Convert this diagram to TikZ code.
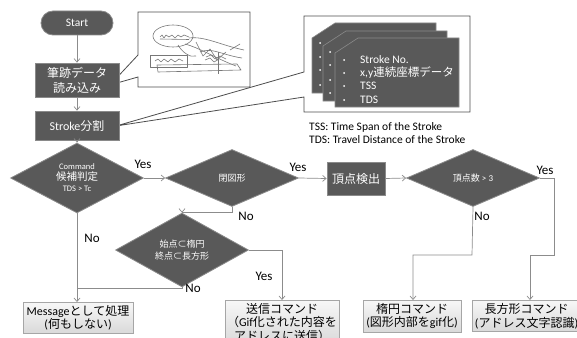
\documentclass[tikz,border=0pt]{standalone}
\usepackage{fontspec}
\setmainfont{Carlito}
\newfontfamily\jp{Noto Sans CJK JP}
\usetikzlibrary{arrows.meta,shapes.geometric}
\definecolor{dkfill}{HTML}{595959}
\definecolor{dkline}{HTML}{8A8A8A}
\definecolor{lncol}{HTML}{8C8C8C}
\definecolor{colc}{HTML}{4D4D4D}
\definecolor{ltline}{HTML}{A6A6A6}
\definecolor{lttop}{HTML}{F7F7F7}
\definecolor{ltbot}{HTML}{D9D9D9}
\definecolor{scrib}{HTML}{777777}
\begin{document}
\begin{tikzpicture}[x=1pt,y=-1pt,
  dark/.style={fill=dkfill, draw=dkline, line width=0.8pt, text=white, align=center, inner sep=1pt},
  dec/.style={dark, diamond, minimum width=133pt, minimum height=57pt, inner sep=0pt},
  lite/.style={draw=ltline, line width=0.8pt, top color=lttop, bottom color=ltbot, align=center, anchor=north, inner xsep=2pt, inner ysep=3pt, text=black, font=\fontsize{12}{13.5}\selectfont},
  conn/.style={draw=lncol, line width=0.7pt},
  arr/.style={conn, -{Straight Barb[length=3.5pt,width=6pt]}},
  lbl/.style={font=\fontsize{13}{14}\selectfont, text=black, inner sep=0pt},
  callout/.style={draw=colc, line width=0.8pt, fill=white},
  card/.style={fill=dkfill, draw=dkline, line width=0.6pt},
  cardtxt/.style={text=white, anchor=west, inner sep=0pt, font=\fontsize{11.5}{13}\selectfont},
  bul/.style={fill=white, draw=none}
]
\useasboundingbox (0,0) rectangle (577,337);
\clip (0,0) rectangle (577,337);

% callouts
\path[callout] (138,12) -- (250,12) -- (250,87) -- (138,87) -- (138,77) -- (110,85) -- (138,55) -- cycle;
\path[callout] (304,16) -- (470,16) -- (470,112) -- (304,112) -- (304,97) -- (116,126) -- (304,72) -- cycle;

% handwriting sketch
\begin{scope}[draw=scrib, line width=0.6pt, line join=round]
  \draw (173,36) ellipse [x radius=20, y radius=11];
  \draw (160,37) -- (162,35) -- (164,38) -- (166,35) -- (169,37) -- (172,35) -- (175,38) -- (178,35) -- (181,37) -- (184,35) -- (189,37);
  \draw (160,39) -- (189,39.5);
  \draw (150,55) rectangle (187,67);
  \draw (155,61) -- (158,59) -- (161,62) -- (164,59) -- (168,62) -- (171,59) -- (175,62) -- (179,59) -- (183,61);
  \draw (157,65) -- (237,64) -- (241,70) -- (158,72) -- cycle;
  \draw (189,38) .. controls (205,36) and (220,45) .. (244,50);
  \draw (185,44) .. controls (200,48) and (215,58) .. (236,66);
  \draw (196,42) -- (203,56) -- (210,49) -- (217,60) -- (226,52);
  \draw (200,52) .. controls (212,47) and (222,55) .. (242,58);
  \draw (206,57) -- (211,55) -- (215,59) -- (220,56) -- (226,59);
  \draw (205,60) -- (210,58) -- (214,62) -- (219,59);
  \draw (218,52) -- (218,74);
  \draw (178,45) .. controls (182,52) and (190,58) .. (196,56);
  \draw (230,50) -- (240,44);
\end{scope}

% cards
\path[card] (312,38) -- (335,23) -- (436,23) -- (436,93) -- (312,93) -- cycle;
\foreach \yy in {43,57,70,85} \fill[bul] (320,\yy) circle (1pt);
\path[card] (323,46) -- (346,31) -- (447,31) -- (447,101) -- (323,101) -- cycle;
\foreach \yy in {52,65,80,93} \fill[bul] (330,\yy) circle (1pt);
\path[card] (335,53) -- (358,38) -- (459,38) -- (459,107) -- (335,107) -- cycle;
\foreach \yy in {60,73,86,100} \fill[bul] (344,\yy) circle (1pt);
\node[cardtxt] (c1) at (360,60) {Stroke No.};
\node[cardtxt] (c2) at (360,73) {x,y{\jp 連続座標データ}};
\node[cardtxt] (c3) at (360,86) {TSS};
\node[cardtxt] (c4) at (360,100) {TDS};

\node[anchor=west, inner sep=0pt, font=\fontsize{11.5}{13}\selectfont] (n1) at (309,127) {TSS: Time Span of the Stroke};
\node[anchor=west, inner sep=0pt, font=\fontsize{11.5}{13}\selectfont] (n2) at (309,140) {TDS: Travel Distance of the Stroke};

% flow nodes
\node[dark, rounded corners=12pt, minimum width=72pt, minimum height=24pt, font=\fontsize{11.5}{13}\selectfont] (start) at (77,23) {Start};
\node[dark, minimum width=84pt, minimum height=34pt, font=\jp\fontsize{12}{15}\selectfont] (read) at (77,80) {筆跡データ\\読み込み};
\node[dark, minimum width=84pt, minimum height=29pt, font=\fontsize{12}{14}\selectfont] (split) at (77,125.5) {Stroke{\jp 分割}};

\node[dec] (d1) at (77,178) {{\fontsize{8.5}{11}\selectfont Command}\\[-1pt]{\jp\fontsize{10.5}{13}\selectfont 候補判定}\\[-1pt]{\fontsize{8.5}{11}\selectfont TDS > Tc}};
\node[dec, font=\jp\fontsize{9}{11}\selectfont] (d2) at (232,178) {閉図形};
\node[dark, minimum width=58pt, minimum height=33pt, font=\jp\fontsize{12}{14}\selectfont] (vert) at (356,178.5) {頂点検出};
\node[dec, font=\fontsize{9}{11}\selectfont] (d3) at (473,178) {{\jp 頂点数} > 3};
\node[dec, font=\jp\fontsize{9}{11.5}\selectfont] (d4) at (182,250) {始点⊂楕円\\終点⊂長方形};

\node[lite, minimum width=110pt] (msg) at (78,302) {Message{\jp として処理}\\({\jp 何もしない})};
\node[lite, minimum width=110pt] (send) at (282,300) {{\jp 送信コマンド}\\{\jp （}Gif{\jp 化された内容を}\\{\jp アドレスに送信）}};
\node[lite, minimum width=98pt] (ell) at (412,300) {{\jp 楕円コマンド}\\({\jp 図形内部を}gif{\jp 化})};
\node[lite, minimum width=100pt] (rect) at (526.5,300) {{\jp 長方形コマンド}\\({\jp アドレス文字認識})};

% coordinates
\coordinate (j1) at (77,288);
\coordinate (a1) at (232,212);
\coordinate (a2) at (182,212);
\coordinate (b1) at (282,250);
\coordinate (e1) at (554,178);
\coordinate (e2) at (554,255);
\coordinate (e3) at (530,255);
\coordinate (f1) at (472,255);
\coordinate (f2) at (413,255);
\coordinate (g1) at (182,288);

% connectors
\draw[arr] (start) -- (read);
\draw[arr] (read) -- (split);
\draw[arr] (split) -- (d1.north);
\draw[arr] (d1.east) -- (d2.west);
\draw[arr] (d2.east) -- (vert.west);
\draw[arr] (vert.east) -- (d3.west);
\draw[arr] (d1.south) -- (msg.north -| d1.south);
\draw[arr] (d2.south) -- (a1) -- (a2) -- (d4.north);
\draw[arr] (d4.east) -- (b1) -- (send.north);
\draw[conn] (d4.south) -- (g1) -- (j1);
\draw[arr] (d3.east) -- (e1) -- (e2) -- (e3) -- (e3 |- rect.north);
\draw[arr] (d3.south) -- (f1) -- (f2) -- (f2 |- ell.north);

% labels
\node[lbl] (y1) at (143,164) {Yes};
\node[lbl] (y2) at (298,167) {Yes};
\node[lbl] (y3) at (545,170) {Yes};
\node[lbl] (y4) at (264,276) {Yes};
\node[lbl] (no1) at (92,238) {No};
\node[lbl] (no2) at (246,216) {No};
\node[lbl] (no3) at (193,288) {No};
\node[lbl] (no4) at (482,216) {No};
\end{tikzpicture}
\end{document}
